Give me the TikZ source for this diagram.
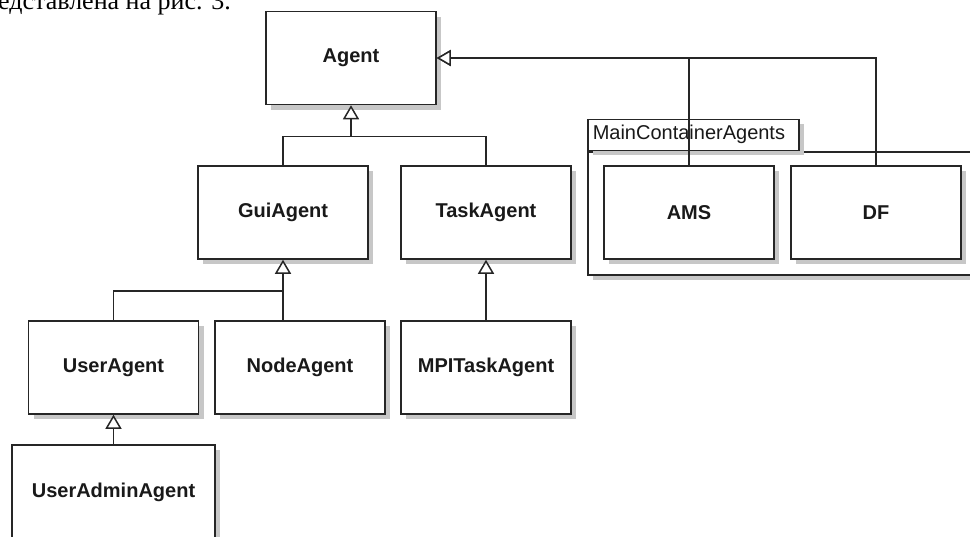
\documentclass[tikz,border=0pt]{standalone}
\usepackage{fontspec}
\setmainfont{Liberation Sans}
\newfontfamily\rufont{Liberation Serif}
\usetikzlibrary{arrows.meta,shadows}
\tikzset{
  cls/.style={draw=black!85, line width=1.5pt, fill=white, rectangle, minimum width=170pt, minimum height=93pt, font=\fontsize{20}{24}\selectfont\bfseries, text=black!90, drop shadow={shadow xshift=5pt, shadow yshift=-5pt, fill=black!22, opacity=1}},
  pkg/.style={draw=black!85, line width=1.5pt, fill=white, rectangle, drop shadow={shadow xshift=5pt, shadow yshift=-5pt, fill=black!22, opacity=1}},
  inherit/.style={draw=black!85, line width=1.5pt, -{Triangle[open, length=14pt, width=16pt, fill=white]}},
  bus/.style={draw=black!85, line width=1.5pt}
}
\begin{document}
\begin{tikzpicture}[x=1pt, y=1pt]
\useasboundingbox (0,0) rectangle (970,-536);
\clip (0,0) rectangle (970,-536);
\node (caption) [anchor=base east, inner sep=0pt, font=\rufont\fontsize{26}{30}\selectfont] at (231,-9) {едставлена на рис. 3.};
% package
\node (pkgbody) [pkg, anchor=north west, minimum width=420pt, minimum height=123pt] at (587,-151) {};
\node (pkgtab) [pkg, anchor=south west, text width=201pt, inner xsep=5pt, inner ysep=0pt, minimum height=31pt, align=left, font=\fontsize{20}{24}\selectfont, text=black!90] at (pkgbody.north west) {MainContainerAgents};
% classes
\node (agent) [cls] at (351,-58) {Agent};
\node (gui) [cls, node distance=154.5pt, below of=agent, xshift=-68pt] {GuiAgent};
\node (task) [cls, node distance=203pt, right of=gui] {TaskAgent};
\node (ams) [cls, node distance=203pt, right of=task] {AMS};
\node (df) [cls, node distance=187pt, right of=ams] {DF};
\node (user) [cls, node distance=155pt, below of=gui, xshift=-169.5pt] {UserAgent};
\node (nodeag) [cls, node distance=186.5pt, right of=user] {NodeAgent};
\node (mpi) [cls, node distance=186pt, right of=nodeag] {MPITaskAgent};
\node (admin) [cls, node distance=124.5pt, below of=user, minimum width=203pt, minimum height=94pt] {UserAdminAgent};
% generalisations
\coordinate (agentbus) at ([yshift=-31pt]agent.south);
\coordinate (guibus) at ([yshift=-31pt]gui.south);
\draw [inherit](gui.north) |- (agentbus) -- (agent.south);
\draw [bus](task.north) |- (agentbus);
\draw [inherit](ams.north) |- (agent.east);
\draw [inherit](df.north) |- (agent.east);
\draw [inherit](user.north) |- (guibus) -- (gui.south);
\draw [bus](nodeag.north -| gui.south) -- (guibus);
\draw [inherit](mpi.north) -- (task.south);
\draw [inherit](admin.north) -- (user.south);
\end{tikzpicture}
\end{document}
